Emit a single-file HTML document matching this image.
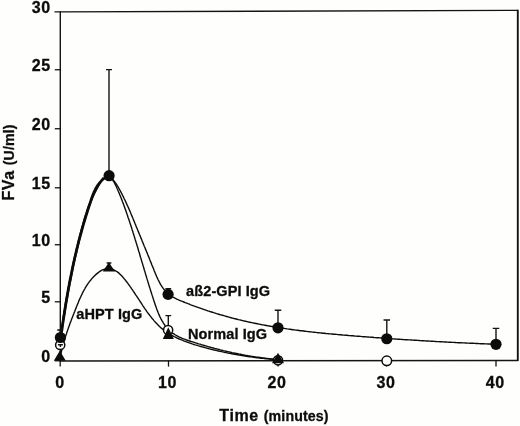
<!DOCTYPE html>
<html><head><meta charset="utf-8"><title>FVa chart</title>
<style>
html,body{margin:0;padding:0;background:#fefefc;}
svg{display:block;}
text{font-family:"Liberation Sans",sans-serif;font-weight:bold;fill:#0c0c0c;stroke:#0c0c0c;stroke-width:0.3px;}
.t16{font-size:16px;letter-spacing:0.6px;}
.t14{font-size:14.2px;letter-spacing:0.1px;}
.t145{font-size:14.5px;letter-spacing:0.1px;}
.ax{stroke:#141414;stroke-width:1.3;fill:none;}
.ln{stroke:#0c0c0c;stroke-width:1.4;fill:none;stroke-linejoin:round;stroke-linecap:round;}
.eb{stroke:#141414;stroke-width:1.4;fill:none;}
</style></head>
<body>
<svg width="520" height="426" viewBox="0 0 520 426">
<rect width="520" height="426" fill="#fefefc"/>
<path d="M54.5,11.9L60.1,11.9L518,10.4" class="ax"/>
<path d="M517.8,9.8V361" class="ax" style="stroke-width:1.9"/>
<path d="M518,360.5L60.1,361" class="ax" style="stroke-width:1.45"/>
<path d="M60.3,361.6V11.3" class="ax" style="stroke-width:1.4"/>
<path d="M54.8,69.75H60.2" class="ax"/>
<path d="M54.8,128.75H60.2" class="ax"/>
<path d="M54.8,187.8H60.2" class="ax"/>
<path d="M54.8,244.75H60.2" class="ax"/>
<path d="M54.8,301.8H60.2" class="ax"/>
<path d="M54.8,360.8H60.2" class="ax"/>
<path d="M60.2,360.5V366.6" class="ax"/>
<path d="M168.5,360.5V366.6" class="ax"/>
<path d="M278,360.5V366.6" class="ax"/>
<path d="M386.5,360.5V366.6" class="ax"/>
<path d="M496,360.5V366.6" class="ax"/>
<path d="M61.6,331.0L61.8,329.5L62.0,328.0L62.2,326.5L62.4,325.0L62.7,323.5L62.9,322.0L63.1,320.5L63.3,319.0L63.6,317.5L63.8,316.0L64.1,314.5L64.3,313.0L64.5,311.5L64.8,310.0L65.0,308.5L65.3,307.0L65.5,305.5L65.8,304.0L66.0,302.5L66.3,301.0L66.6,299.5L66.8,298.0L67.1,296.5L67.3,295.1L67.6,293.6L67.9,292.1L68.2,290.6L68.4,289.1L68.7,287.6L69.0,286.1L69.3,284.6L69.6,283.1L69.9,281.7L70.2,280.2L70.5,278.7L70.8,277.2L71.1,275.7L71.4,274.2L71.7,272.7L72.0,271.3L72.3,269.8L72.6,268.3L72.9,266.8L73.2,265.3L73.5,263.9L73.9,262.4L74.2,260.9L74.5,259.4L74.9,257.9L75.2,256.5L75.5,255.0L75.9,253.5L76.2,252.0L76.6,250.5L76.9,249.1L77.2,247.6L77.6,246.1L78.0,244.6L78.3,243.1L78.7,241.7L79.0,240.2L79.4,238.7L79.8,237.2L80.1,235.8L80.5,234.3L80.9,232.8L81.3,231.3L81.7,229.9L82.1,228.4L82.4,226.9L82.8,225.5L83.3,224.0L83.7,222.5L84.1,221.1L84.5,219.6L84.9,218.1L85.4,216.7L85.8,215.2L86.3,213.8L86.8,212.4L87.2,210.9L87.7,209.5L88.2,208.1L88.7,206.6L89.2,205.2L89.8,203.8L90.3,202.4L90.9,201.0L91.5,199.6L92.0,198.2L92.6,196.8L93.2,195.5L93.9,194.1L94.5,192.7L95.2,191.4L95.9,190.1L96.6,188.7L97.3,187.4L98.0,186.1L98.8,184.8L99.6,183.5L100.4,182.3L101.2,181.0L102.1,179.8L102.9,178.5" class="ln" style="stroke-width:2.3"/>
<path d="M60.2,337.5L60.4,336.0L60.6,334.5L60.8,333.0L61.0,331.5L61.2,330.0L61.4,328.5L61.6,327.0L61.8,325.6L62.0,324.1L62.3,322.6L62.5,321.1L62.7,319.6L62.9,318.1L63.1,316.6L63.4,315.1L63.6,313.6L63.8,312.2L64.0,310.7L64.3,309.2L64.5,307.7L64.8,306.2L65.0,304.7L65.2,303.2L65.5,301.7L65.7,300.3L66.0,298.8L66.2,297.3L66.5,295.8L66.8,294.3L67.0,292.8L67.3,291.4L67.5,289.9L67.8,288.4L68.1,286.9L68.4,285.4L68.6,284.0L68.9,282.5L69.2,281.0L69.5,279.5L69.8,278.0L70.1,276.6L70.4,275.1L70.7,273.6L71.0,272.1L71.3,270.7L71.6,269.2L71.9,267.7L72.2,266.2L72.5,264.8L72.8,263.3L73.2,261.8L73.5,260.4L73.8,258.9L74.1,257.4L74.5,256.0L74.8,254.5L75.2,253.0L75.5,251.6L75.9,250.1L76.2,248.6L76.6,247.2L77.0,245.7L77.3,244.2L77.7,242.8L78.1,241.3L78.4,239.9L78.8,238.4L79.2,237.0L79.6,235.5L80.0,234.1L80.4,232.6L80.8,231.2L81.2,229.7L81.6,228.3L82.0,226.8L82.5,225.4L82.9,223.9L83.3,222.5L83.7,221.0L84.2,219.6L84.6,218.2L85.1,216.7L85.5,215.3L86.0,213.9L86.4,212.4L86.9,211.0L87.3,209.5L87.8,208.1L88.2,206.7L88.7,205.3L89.2,203.8L89.6,202.4L90.1,201.0L90.5,199.5L91.0,198.1L91.5,196.7L92.0,195.3L92.6,193.9L93.1,192.5L93.7,191.1L94.4,189.8L95.1,188.4L95.8,187.1L96.6,185.8L97.5,184.5L98.5,183.3L99.5,182.0L100.6,180.9L101.8,179.7L103.0,178.7L104.2,177.9L105.5,177.2L106.7,176.7L107.9,176.6L109.1,176.7L110.2,177.2L111.3,178.0L112.3,178.9L113.3,180.0L114.2,181.1L115.1,182.3L116.0,183.5L116.8,184.8L117.6,186.1L118.4,187.5L119.2,188.9L119.9,190.2L120.7,191.6L121.4,193.0L122.1,194.4L122.8,195.7L123.5,197.1L124.1,198.5L124.8,199.9L125.5,201.3L126.1,202.6L126.7,204.0L127.3,205.4L128.0,206.8L128.6,208.1L129.2,209.5L129.8,210.9L130.4,212.3L130.9,213.6L131.5,215.0L132.1,216.4L132.7,217.8L133.2,219.1L133.8,220.5L134.4,221.9L134.9,223.3L135.5,224.6L136.0,226.0L136.6,227.4L137.2,228.7L137.7,230.1L138.3,231.5L138.9,232.9L139.4,234.2L140.0,235.6L140.6,237.0L141.1,238.4L141.7,239.7L142.2,241.1L142.8,242.5L143.4,243.9L143.9,245.3L144.5,246.7L145.1,248.0L145.6,249.4L146.2,250.8L146.8,252.2L147.4,253.6L147.9,255.0L148.5,256.4L149.1,257.8L149.6,259.3L150.2,260.7L150.8,262.1L151.4,263.5L151.9,264.9L152.5,266.4L153.1,267.8L153.7,269.3L154.2,270.7L154.8,272.1L155.4,273.6L156.0,275.0L156.6,276.5L157.3,277.9L157.9,279.3L158.6,280.7L159.3,282.0L160.0,283.3L160.7,284.6L161.5,285.9L162.3,287.2L163.2,288.4L164.1,289.5L165.0,290.6L166.0,291.7L167.0,292.7L168.0,293.7L169.2,294.6L170.3,295.4L171.6,296.2L172.8,297.0L174.1,297.7L175.4,298.4L176.8,299.1L178.1,299.7L179.5,300.3L180.9,300.9L182.3,301.4L183.8,302.0L185.2,302.6L186.6,303.1L188.0,303.7L189.4,304.2L190.8,304.8L192.2,305.3L193.7,305.9L195.1,306.4L196.5,306.9L197.9,307.4L199.4,307.9L200.8,308.4L202.2,308.9L203.6,309.4L205.1,309.9L206.5,310.4L207.9,310.9L209.4,311.3L210.8,311.8L212.3,312.2L213.7,312.7L215.1,313.1L216.6,313.6L218.0,314.0L219.5,314.5L220.9,314.9L222.4,315.3L223.8,315.7L225.3,316.1L226.7,316.5L228.2,316.9L229.6,317.3L231.1,317.7L232.5,318.1L234.0,318.5L235.4,318.8L236.9,319.2L238.4,319.6L239.8,319.9L241.3,320.3L242.7,320.6L244.2,321.0L245.7,321.3L247.1,321.6L248.6,322.0L250.1,322.3L251.5,322.6L253.0,322.9L254.5,323.2L256.0,323.5L257.4,323.8L258.9,324.1L260.4,324.4L261.9,324.7L263.3,324.9L264.8,325.2L266.3,325.5L267.8,325.8L269.3,326.0L270.7,326.3L272.2,326.5L273.7,326.8L275.2,327.0L276.7,327.3L278.1,327.5L279.6,327.7L281.1,328.0L282.6,328.2L284.1,328.4L285.6,328.6L287.1,328.9L288.6,329.1L290.0,329.3L291.5,329.5L293.0,329.7L294.5,329.9L296.0,330.1L297.5,330.3L299.0,330.5L300.5,330.7L302.0,330.8L303.5,331.0L305.0,331.2L306.5,331.4L308.0,331.6L309.5,331.7L311.0,331.9L312.5,332.1L314.0,332.2L315.5,332.4L317.0,332.6L318.4,332.7L319.9,332.9L321.4,333.0L322.9,333.2L324.4,333.3L325.9,333.5L327.4,333.6L328.9,333.8L330.4,333.9L331.9,334.0L333.5,334.2L335.0,334.3L336.5,334.4L338.0,334.6L339.5,334.7L341.0,334.8L342.5,335.0L344.0,335.1L345.5,335.2L347.0,335.3L348.5,335.5L350.0,335.6L351.5,335.7L353.0,335.8L354.5,336.0L356.0,336.1L357.5,336.2L359.0,336.3L360.5,336.4L362.0,336.6L363.5,336.7L365.0,336.8L366.5,336.9L368.0,337.0L369.5,337.1L371.0,337.2L372.5,337.3L374.0,337.5L375.5,337.6L377.0,337.7L378.5,337.8L380.0,337.9L381.5,338.0L383.0,338.1L384.5,338.2L386.0,338.3L387.5,338.4L389.0,338.5L390.5,338.6L392.0,338.8L393.5,338.9L395.0,339.0L396.5,339.1L398.0,339.2L399.5,339.3L401.0,339.4L402.5,339.5L404.0,339.6L405.5,339.7L407.0,339.8L408.5,339.9L410.0,339.9L411.5,340.0L413.0,340.1L414.5,340.2L416.0,340.3L417.5,340.4L419.1,340.5L420.6,340.6L422.1,340.7L423.6,340.8L425.1,340.9L426.6,341.0L428.1,341.0L429.6,341.1L431.1,341.2L432.6,341.3L434.1,341.4L435.6,341.5L437.1,341.6L438.6,341.6L440.1,341.7L441.6,341.8L443.1,341.9L444.6,342.0L446.1,342.0L447.6,342.1L449.1,342.2L450.6,342.3L452.1,342.4L453.6,342.4L455.1,342.5L456.6,342.6L458.1,342.7L459.6,342.7L461.1,342.8L462.6,342.9L464.1,342.9L465.6,343.0L467.1,343.1L468.6,343.1L470.2,343.2L471.7,343.3L473.2,343.3L474.7,343.4L476.2,343.5L477.7,343.5L479.2,343.6L480.7,343.7L482.2,343.7L483.7,343.8L485.2,343.9L486.7,343.9L488.2,344.0L489.7,344.0L491.2,344.1L492.7,344.1L494.3,344.2L495.8,344.3" class="ln"/>
<path d="M60.3,345.0L60.5,343.5L60.8,342.0L61.0,340.5L61.2,339.0L61.4,337.6L61.6,336.1L61.8,334.6L62.0,333.1L62.3,331.6L62.5,330.1L62.7,328.7L62.9,327.2L63.1,325.7L63.4,324.2L63.6,322.7L63.8,321.2L64.0,319.7L64.3,318.2L64.5,316.7L64.7,315.3L65.0,313.8L65.2,312.3L65.4,310.8L65.7,309.3L65.9,307.8L66.2,306.3L66.4,304.8L66.6,303.3L66.9,301.8L67.1,300.3L67.4,298.9L67.7,297.4L67.9,295.9L68.2,294.4L68.4,292.9L68.7,291.4L69.0,289.9L69.2,288.4L69.5,286.9L69.8,285.5L70.0,284.0L70.3,282.5L70.6,281.0L70.9,279.5L71.2,278.0L71.5,276.6L71.8,275.1L72.1,273.6L72.4,272.1L72.7,270.6L73.0,269.2L73.3,267.7L73.6,266.2L73.9,264.8L74.2,263.3L74.5,261.8L74.9,260.3L75.2,258.9L75.5,257.4L75.9,255.9L76.2,254.5L76.6,253.0L76.9,251.6L77.3,250.1L77.6,248.7L78.0,247.2L78.3,245.8L78.7,244.3L79.1,242.9L79.4,241.4L79.8,240.0L80.2,238.5L80.6,237.1L81.0,235.6L81.4,234.2L81.8,232.7L82.2,231.3L82.6,229.9L83.0,228.4L83.4,227.0L83.8,225.5L84.2,224.1L84.7,222.6L85.1,221.2L85.5,219.8L86.0,218.3L86.4,216.9L86.9,215.4L87.3,214.0L87.8,212.5L88.2,211.1L88.7,209.6L89.1,208.2L89.6,206.7L90.1,205.3L90.6,203.8L91.0,202.3L91.5,200.9L92.0,199.4L92.5,197.9L93.0,196.5L93.6,195.0L94.1,193.6L94.7,192.2L95.3,190.8L96.0,189.5L96.7,188.2L97.4,186.9L98.2,185.6L99.0,184.4L99.9,183.3L100.8,182.1L101.9,181.1L102.9,180.1L104.1,179.1L105.3,178.3L106.6,177.6L107.8,177.2L109.0,177.1L110.1,177.5L111.1,178.2L112.0,179.2L112.9,180.4L113.7,181.7L114.5,183.0L115.2,184.4L115.9,185.8L116.6,187.3L117.2,188.8L117.9,190.2L118.5,191.7L119.1,193.1L119.7,194.6L120.3,196.0L120.9,197.4L121.4,198.9L122.0,200.3L122.5,201.7L123.1,203.1L123.6,204.5L124.1,205.9L124.6,207.3L125.1,208.7L125.6,210.1L126.1,211.5L126.6,212.9L127.1,214.4L127.6,215.8L128.0,217.2L128.5,218.6L129.0,220.0L129.5,221.4L129.9,222.8L130.4,224.2L130.9,225.7L131.3,227.1L131.8,228.5L132.2,229.9L132.7,231.3L133.1,232.8L133.6,234.2L134.0,235.6L134.5,237.1L134.9,238.5L135.3,239.9L135.8,241.3L136.2,242.8L136.7,244.2L137.1,245.6L137.5,247.1L138.0,248.5L138.4,250.0L138.8,251.4L139.3,252.8L139.7,254.3L140.1,255.7L140.5,257.2L141.0,258.6L141.4,260.0L141.8,261.5L142.3,262.9L142.7,264.4L143.1,265.8L143.6,267.3L144.0,268.7L144.4,270.2L144.9,271.6L145.3,273.1L145.7,274.5L146.2,276.0L146.6,277.4L147.0,278.9L147.5,280.4L147.9,281.8L148.4,283.3L148.8,284.7L149.3,286.2L149.7,287.6L150.2,289.1L150.6,290.6L151.1,292.0L151.6,293.5L152.0,294.9L152.5,296.4L153.0,297.9L153.4,299.3L153.9,300.8L154.4,302.3L154.9,303.7L155.4,305.2L155.9,306.6L156.4,308.1L156.9,309.5L157.5,310.9L158.0,312.3L158.6,313.7L159.2,315.1L159.8,316.5L160.5,317.8L161.1,319.1L161.8,320.4L162.6,321.7L163.3,322.9L164.1,324.1L164.9,325.3L165.8,326.5L166.7,327.6L167.6,328.7L168.6,329.7L169.6,330.7L170.7,331.6L171.8,332.6L172.9,333.4L174.2,334.2L175.4,335.0L176.7,335.7L178.0,336.4L179.4,337.1L180.8,337.7L182.2,338.3L183.7,338.9L185.1,339.4L186.6,340.0L188.1,340.5L189.6,341.0L191.1,341.5L192.6,341.9L194.1,342.4L195.6,342.9L197.1,343.3L198.6,343.8L200.0,344.2L201.5,344.7L203.0,345.1L204.4,345.5L205.9,345.9L207.4,346.4L208.8,346.8L210.3,347.2L211.7,347.6L213.2,348.0L214.6,348.4L216.1,348.7L217.5,349.1L219.0,349.5L220.4,349.9L221.9,350.2L223.3,350.6L224.8,350.9L226.2,351.3L227.6,351.6L229.1,351.9L230.5,352.2L232.0,352.6L233.4,352.9L234.9,353.2L236.3,353.5L237.8,353.8L239.2,354.1L240.7,354.3L242.1,354.6L243.6,354.9L245.0,355.2L246.5,355.4L247.9,355.7L249.4,355.9L250.9,356.2L252.4,356.4L253.8,356.6L255.3,356.9L256.8,357.1L258.3,357.3L259.8,357.5L261.3,357.7L262.8,357.9L264.3,358.1L265.8,358.3L267.3,358.4L268.9,358.6L270.4,358.8L271.9,358.9L273.5,359.1L275.0,359.2L276.6,359.4L278.1,359.5" class="ln"/>
<path d="M60.3,357.0L60.6,355.5L60.9,354.0L61.2,352.5L61.5,351.1L61.9,349.6L62.3,348.1L62.6,346.6L63.0,345.2L63.4,343.7L63.8,342.3L64.2,340.8L64.7,339.4L65.1,338.0L65.5,336.5L66.0,335.1L66.5,333.7L66.9,332.3L67.4,330.9L67.9,329.4L68.4,328.0L68.9,326.6L69.4,325.2L69.9,323.8L70.4,322.4L71.0,321.0L71.5,319.6L72.0,318.2L72.6,316.8L73.1,315.4L73.7,314.0L74.2,312.6L74.8,311.2L75.3,309.8L75.9,308.4L76.4,307.0L77.0,305.5L77.6,304.1L78.2,302.7L78.7,301.3L79.3,299.9L79.9,298.5L80.6,297.1L81.2,295.8L81.9,294.4L82.5,293.0L83.2,291.7L83.9,290.3L84.7,289.0L85.4,287.7L86.2,286.4L87.0,285.1L87.8,283.9L88.7,282.6L89.6,281.4L90.6,280.2L91.5,279.1L92.5,277.9L93.6,276.8L94.7,275.7L95.8,274.6L97.0,273.6L98.2,272.6L99.4,271.7L100.7,270.9L102.0,270.2L103.3,269.6L104.7,269.2L106.0,268.9L107.4,268.7L108.8,268.7L110.2,268.9L111.6,269.1L112.9,269.5L114.2,270.1L115.5,270.8L116.8,271.5L118.0,272.4L119.2,273.4L120.3,274.5L121.4,275.6L122.5,276.7L123.5,277.9L124.5,279.1L125.5,280.3L126.4,281.5L127.3,282.7L128.2,283.9L129.1,285.1L130.0,286.4L130.9,287.6L131.7,288.8L132.6,290.0L133.4,291.3L134.2,292.5L135.1,293.8L135.9,295.1L136.8,296.3L137.6,297.6L138.4,298.9L139.3,300.2L140.1,301.5L140.9,302.7L141.8,304.0L142.6,305.3L143.5,306.6L144.3,307.8L145.2,309.1L146.1,310.3L146.9,311.6L147.8,312.8L148.7,314.0L149.6,315.2L150.6,316.4L151.5,317.6L152.4,318.8L153.4,319.9L154.4,321.1L155.4,322.2L156.4,323.3L157.4,324.3L158.5,325.4L159.5,326.4L160.6,327.4L161.7,328.4L162.8,329.3L164.0,330.3L165.1,331.2L166.3,332.0L167.6,332.9L168.8,333.7L170.1,334.4L171.4,335.2L172.7,335.9L174.0,336.6L175.4,337.2L176.7,337.9L178.1,338.5L179.5,339.1L180.9,339.7L182.3,340.2L183.7,340.8L185.1,341.3L186.5,341.9L187.9,342.4L189.3,342.9L190.8,343.4L192.2,343.9L193.6,344.3L195.1,344.8L196.5,345.2L198.0,345.7L199.4,346.1L200.9,346.5L202.3,346.9L203.8,347.3L205.2,347.7L206.7,348.1L208.2,348.5L209.6,348.9L211.1,349.2L212.6,349.6L214.0,350.0L215.5,350.3L217.0,350.6L218.4,351.0L219.9,351.3L221.4,351.6L222.9,351.9L224.3,352.3L225.8,352.6L227.3,352.9L228.8,353.2L230.2,353.4L231.7,353.7L233.2,354.0L234.7,354.3L236.2,354.5L237.6,354.8L239.1,355.1L240.6,355.3L242.1,355.6L243.6,355.8L245.1,356.0L246.5,356.3L248.0,356.5L249.5,356.7L251.0,356.9L252.5,357.1L254.0,357.3L255.5,357.5L257.0,357.7L258.5,357.9L260.0,358.0L261.5,358.2L263.0,358.4L264.5,358.5L266.0,358.7L267.5,358.9L269.0,359.0L270.5,359.1L272.0,359.3L273.5,359.4L275.0,359.5L276.5,359.6L278.0,359.8" class="ln"/>
<path d="M109,175V69.6M106.0,69.6H112.0" class="eb"/>
<path d="M168.3,294V288.7M165.4,288.7H171.20000000000002" class="eb"/>
<path d="M168.3,329V315.6M165.4,315.6H171.20000000000002" class="eb"/>
<path d="M278,327.5V310.3M274.75,310.3H281.25" class="eb"/>
<path d="M386.8,338.75V320M383.55,320H390.05" class="eb"/>
<path d="M496,344.3V328.4M492.75,328.4H499.25" class="eb"/>
<path d="M60.2,337V330M57.2,330H63.2" class="eb"/>
<path d="M109,266V263M106.6,263H111.4" class="eb"/>
<circle cx="60.2" cy="345" r="4.6" fill="#fefefc" stroke="#0c0c0c" stroke-width="1.5"/>
<path d="M60.4,347V344.8M57.9,344.8H62.9" class="eb"/>
<circle cx="60.4" cy="337.5" r="5.6" fill="#0c0c0c"/>
<path d="M53.8,360.8H65.8L59.8,350.8Z" fill="#0c0c0c"/>
<circle cx="109.1" cy="175.7" r="5.6" fill="#0c0c0c"/>
<path d="M102.80000000000001,271.6H115.0L108.9,262.3Z" fill="#0c0c0c"/>
<circle cx="168.1" cy="330" r="4.6" fill="#fefefc" stroke="#0c0c0c" stroke-width="1.5"/>
<path d="M162.8,339H173.8L168.3,327.2Z" fill="#0c0c0c"/>
<circle cx="168.1" cy="294.4" r="5.6" fill="#0c0c0c"/>
<circle cx="278" cy="360.3" r="4.6" fill="#fefefc" stroke="#0c0c0c" stroke-width="1.5"/>
<path d="M272.0,363.3H284.0L278,352.7Z" fill="#0c0c0c"/>
<circle cx="278" cy="327.8" r="5.6" fill="#0c0c0c"/>
<circle cx="386.8" cy="360.8" r="4.8" fill="#fefefc" stroke="#0c0c0c" stroke-width="1.5"/>
<circle cx="386.8" cy="338.75" r="5.6" fill="#0c0c0c"/>
<circle cx="496" cy="344.3" r="5.6" fill="#0c0c0c"/>
<text x="50.7" y="12.9" text-anchor="end" class="t16">30</text>
<text x="50.7" y="71" text-anchor="end" class="t16">25</text>
<text x="50.7" y="130" text-anchor="end" class="t16">20</text>
<text x="50.7" y="188.8" text-anchor="end" class="t16">15</text>
<text x="50.7" y="246" text-anchor="end" class="t16">10</text>
<text x="50.7" y="303.3" text-anchor="end" class="t16">5</text>
<text x="50.7" y="361.8" text-anchor="end" class="t16">0</text>
<text x="60.1" y="388" text-anchor="middle" class="t16">0</text>
<text x="167.6" y="388" text-anchor="middle" class="t16">10</text>
<text x="277" y="388" text-anchor="middle" class="t16">20</text>
<text x="385.9" y="388" text-anchor="middle" class="t16">30</text>
<text x="495.2" y="388" text-anchor="middle" class="t16">40</text>
<text x="219.3" y="421.3" class="t16">Time <tspan class="t14">(minutes)</tspan></text>
<text transform="translate(13.7,200.6) rotate(-90)" class="t16">FVa <tspan class="t14">(U/ml)</tspan></text>
<text x="76.3" y="319.2" class="t145">aHPT IgG</text>
<text x="186.1" y="295.6" class="t145">aß2-GPI IgG</text>
<text x="188" y="338.9" class="t145">Normal IgG</text>
</svg>
</body></html>
